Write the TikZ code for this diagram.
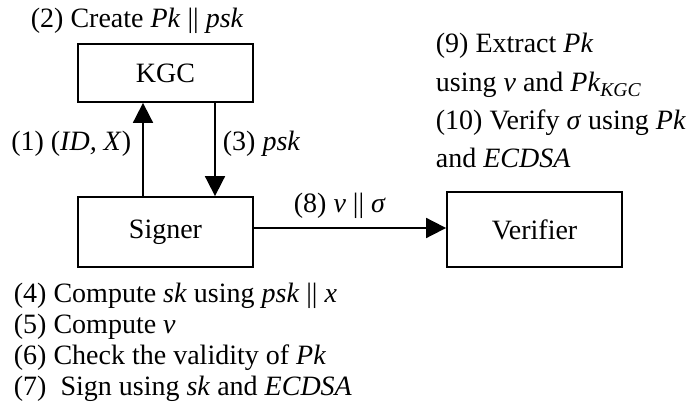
\documentclass[tikz,border=0pt]{standalone}
\usepackage{fontspec}
\setmainfont{Liberation Serif}
\usetikzlibrary{arrows.meta, positioning}

\begin{document}
\begin{tikzpicture}[> = {Triangle[length=10pt, width=10pt]}, % arrow head style
                x = 0.5pt, y = -0.5pt, % one unit per pixel, y goes down
                line width = 0.9pt, % line style
                font = \fontsize{14}{16}\selectfont
            ]

            \tikzstyle{box}=[draw = black, rectangle, inner sep = 0pt,
            minimum width = 87.5pt]
            \tikzstyle{lbl}=[inner sep = 0pt, anchor = base west]

            \useasboundingbox (0,0) rectangle (690,416);

            % parties
            \node[box, minimum height = 29pt] (kgc) at (165.5,73) {KGC};
            \node[box, minimum height = 35pt] (sig) at (165.5,232) {Signer};
            \node[box, minimum height = 37.5pt] (ver) at (534.5,229.5) {Verifier};

            \coordinate (up) at (143,0); \coordinate (dn) at (215,0);
            \coordinate (hz) at (0,228);

            \path[->] (sig.north -| up) edge (kgc.south -| up); \path[->]
            (kgc.south -| dn) edge (sig.north -| dn); \path[->] (sig.east |-
            hz) edge (ver.west |- hz);

            % labels
            \node[lbl] (c2) at (30,28) {(2) Create \textit{Pk} || \textit{psk}};
            \node[lbl, anchor = base east] (c1) at (132,151) {(1) (\textit{ID, X})};
            \node[lbl] (c3) at (222,151) {(3) \textit{psk}};
            \node[lbl] (c8) at (293,213) {(8) \textit{v} || \textit{σ}};

            \node[lbl] (c9) at (435,53) {(9) Extract \textit{Pk}};
            \node[lbl] (c9b) at (435,92) {using \textit{v} and
            \textit{Pk}\textsubscript{\textit{KGC}}};
            \node[lbl] (c10) at (435,130) {(10) Verify \textit{σ} using \textit{Pk}};
            \node[lbl] (c10b) at (435,168) {and \textit{ECDSA}};

            \node[lbl] (c4) at (13,303) {(4) Compute \textit{sk} using
            \textit{psk} || \textit{x}};
            \node[lbl] (c5) at (13,334) {(5) Compute \textit{v}};
            \node[lbl] (c6) at (13,364.5) {(6) Check the validity of \textit{Pk}};
            \node[lbl] (c7) at (13,395) {(7)\ \ Sign using \textit{sk} and
            \textit{ECDSA}};
\end{tikzpicture}
\end{document}
